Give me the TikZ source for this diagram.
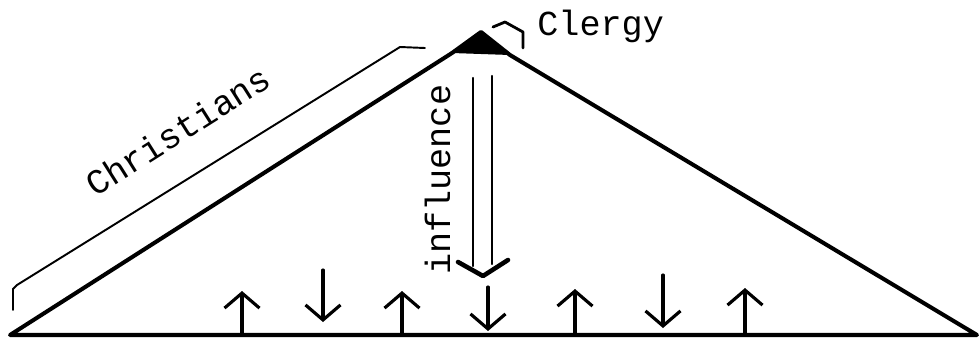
\documentclass[tikz,border=0pt]{standalone}
\usepackage{fontspec}
\setmonofont{Liberation Mono}
\usetikzlibrary{arrows.meta}
\begin{document}
\begin{tikzpicture}[x=0.02cm,y=-0.02cm,
  side/.style={line width=2.3pt,line join=round,line cap=round},
  brace/.style={line width=1.1pt,line join=round,line cap=round},
  lbl/.style={font=\ttfamily\fontsize{20pt}{24pt}\selectfont,inner sep=0pt},
  small/.style={line width=1.8pt,line cap=round,-{Straight Barb[length=0.3cm,width=0.7cm,line width=1.8pt]}},
  big/.style={line width=1.4pt,line cap=round}]
\useasboundingbox (0,0) rectangle (980,339);
% triangle
\coordinate (L) at (10,335);
\coordinate (A) at (481,32);
\coordinate (R) at (977,335);
\coordinate (AL) at (452,53);
\coordinate (AR) at (510,55);
\fill[line join=round] (AL) -- (A) -- (AR) -- cycle;
\draw[side] (L) -- (AL) -- (A) -- (AR) -- (R) -- cycle;
% Clergy bracket and label
\coordinate (c1) at (493,27);
\coordinate (c2) at (505,22);
\coordinate (c3) at (523,32);
\coordinate (c4) at (523,48);
\draw[brace,line width=1.6pt] (c1) -- (c2) -- (c3) -- (c4);
\node[lbl,anchor=base west] (clergy) at (537,35) {Clergy};
% Christians bracket and label
\coordinate (b1) at (13,310);
\coordinate (b2) at (13,289);
\coordinate (b3) at (17,285);
\coordinate (b4) at (400,47);
\coordinate (b5) at (425,48);
\draw[brace] (b1) -- (b2) -- (b3) -- (b4) -- (b5);
\node[lbl,anchor=base west,rotate=32.3] (christians) at (95,198) {Christians};
% influence arrow
\node[lbl,anchor=base west,rotate=90] (influence) at (450,275) {influence};
\coordinate (i1) at (473,78);
\coordinate (i2) at (473,266);
\coordinate (j1) at (492,76);
\coordinate (j2) at (492,264);
\coordinate (h1) at (458,262);
\coordinate (ht) at (483,276);
\coordinate (h2) at (508,260);
\draw[big] (i1) -- (i2);
\draw[big] (j1) -- (j2);
\draw[line width=2.6pt,line cap=round,line join=round] (h1) -- (ht) -- (h2);
% small arrows along the base
\coordinate (u1a) at (242,335); \coordinate (u1b) at (242,291);
\coordinate (d1a) at (323,270); \coordinate (d1b) at (323,322);
\coordinate (u2a) at (402,335); \coordinate (u2b) at (402,291);
\coordinate (d2a) at (488,287); \coordinate (d2b) at (488,331);
\coordinate (u3a) at (575,335); \coordinate (u3b) at (575,289);
\coordinate (d3a) at (663,275); \coordinate (d3b) at (663,328);
\coordinate (u4a) at (745,335); \coordinate (u4b) at (745,288);
\draw[small] (u1a) -- (u1b);
\draw[small] (d1a) -- (d1b);
\draw[small] (u2a) -- (u2b);
\draw[small] (d2a) -- (d2b);
\draw[small] (u3a) -- (u3b);
\draw[small] (d3a) -- (d3b);
\draw[small] (u4a) -- (u4b);
\end{tikzpicture}
\end{document}
